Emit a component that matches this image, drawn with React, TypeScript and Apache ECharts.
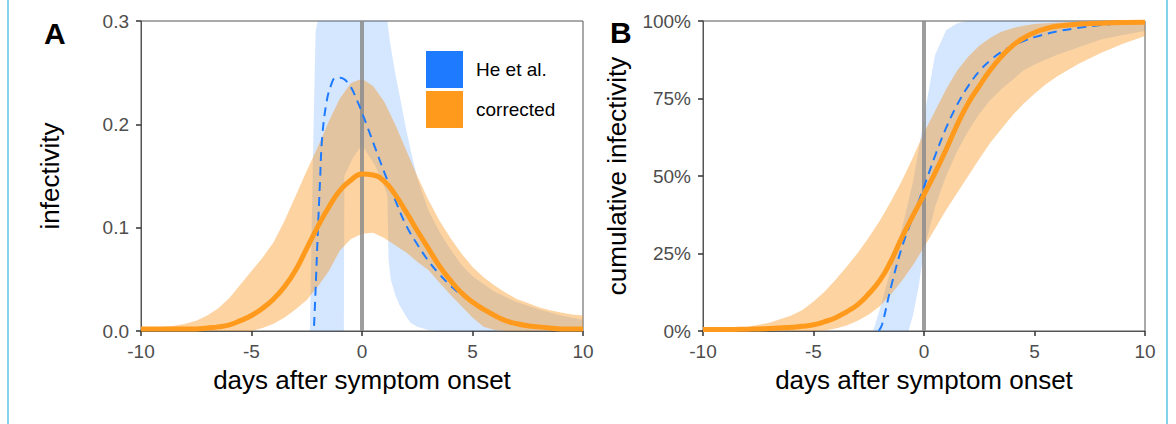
import React, { useEffect, useRef } from "react";
import * as echarts from "echarts";

// ---------- Panel A: infectivity (density) ----------
const xOrangeA = [-10, -9.5, -9, -8.5, -8, -7.5, -7, -6.5, -6, -5.5, -5, -4.5, -4, -3.5, -3, -2.5, -2, -1.5, -1, -0.5, 0, 0.5, 1, 1.5, 2, 2.5, 3, 3.5, 4, 4.5, 5, 5.5, 6, 6.5, 7, 7.5, 8, 8.5, 9, 9.5, 10];
const meanA = [0.002, 0.002, 0.002, 0.002, 0.002, 0.002, 0.003, 0.004, 0.006, 0.010, 0.015, 0.022, 0.031, 0.043, 0.059, 0.080, 0.101, 0.120, 0.136, 0.146, 0.152, 0.151, 0.145, 0.132, 0.115, 0.097, 0.080, 0.063, 0.049, 0.037, 0.028, 0.021, 0.015, 0.010, 0.007, 0.005, 0.004, 0.003, 0.002, 0.002, 0.002];
const loA = [0, 0, 0, 0, 0, 0, 0, 0, 0, 0, 0, 0.003, 0.007, 0.013, 0.021, 0.030, 0.043, 0.058, 0.078, 0.089, 0.094, 0.095, 0.090, 0.083, 0.076, 0.067, 0.059, 0.047, 0.035, 0.024, 0.013, 0.004, 0.001, 0, 0, 0, 0, 0, 0, 0, 0];
const hiA = [0.003, 0.003, 0.004, 0.005, 0.007, 0.010, 0.015, 0.022, 0.032, 0.045, 0.058, 0.071, 0.086, 0.107, 0.131, 0.155, 0.178, 0.203, 0.225, 0.240, 0.244, 0.237, 0.222, 0.200, 0.175, 0.150, 0.127, 0.107, 0.090, 0.075, 0.062, 0.052, 0.044, 0.037, 0.031, 0.027, 0.023, 0.020, 0.018, 0.016, 0.015];

const xBlueA = [-2.36, -2.3, -2.2, -2.1, -2.0, -1.5, -1.0, -0.82, -0.8, -0.4, 0.0, 0.6, 1.1, 1.15, 1.2, 1.3, 1.5, 1.7, 2.0, 2.2, 2.5, 3.0, 3.5, 4.0, 4.5, 5.0, 6.0, 7.0, 8.0, 9.0, 10.0];
const loBlueA = [0, 0, 0, 0, 0, 0, 0, 0, 0.15, 0.168, 0.18, 0.16, 0.135, 0.13, 0.07, 0.05, 0.035, 0.025, 0.014, 0.008, 0.004, 0.001, 0, 0, 0, 0, 0, 0, 0, 0, 0];
const hiBlueA = [0, 0.07, 0.19, 0.29, 0.4, 0.45, 0.45, 0.45, 0.45, 0.45, 0.45, 0.45, 0.32, 0.3, 0.29, 0.275, 0.25, 0.228, 0.195, 0.175, 0.148, 0.117, 0.096, 0.079, 0.064, 0.053, 0.038, 0.028, 0.021, 0.015, 0.011];

const xDashA = [-2.17, -2.1, -2.0, -1.9, -1.8, -1.6, -1.4, -1.2, -1.0, -0.6, -0.2, 0.2, 0.6, 1.0, 1.5, 2.0, 2.5, 3.0, 3.5, 4.0, 4.5, 5.0, 5.5, 6, 7, 8, 9, 10];
const dashA = [0.005, 0.04, 0.095, 0.145, 0.188, 0.222, 0.238, 0.245, 0.245, 0.239, 0.222, 0.200, 0.177, 0.154, 0.127, 0.102, 0.084, 0.068, 0.055, 0.044, 0.035, 0.028, 0.021, 0.015, 0.008, 0.004, 0.002, 0.001];

// ---------- Panel B: cumulative infectivity ----------
const xOrangeB = [-10, -9, -8, -7, -6, -5.5, -5, -4.5, -4, -3.5, -3, -2.5, -2, -1.5, -1, -0.5, 0, 0.5, 1, 1.5, 2, 2.5, 3, 3.5, 4, 4.5, 5, 5.5, 6, 7, 8, 9, 10];
const meanB = [0.005, 0.005, 0.006, 0.008, 0.012, 0.015, 0.02, 0.03, 0.043, 0.062, 0.085, 0.12, 0.163, 0.225, 0.302, 0.372, 0.44, 0.51, 0.585, 0.665, 0.735, 0.79, 0.842, 0.885, 0.92, 0.945, 0.963, 0.975, 0.983, 0.99, 0.993, 0.995, 0.996];
const loB = [0, 0, 0, 0, 0, 0, 0, 0.002, 0.008, 0.018, 0.033, 0.053, 0.08, 0.118, 0.162, 0.212, 0.27, 0.33, 0.39, 0.445, 0.5, 0.555, 0.607, 0.652, 0.695, 0.733, 0.765, 0.795, 0.82, 0.862, 0.897, 0.927, 0.952];
const hiB = [0.005, 0.007, 0.013, 0.027, 0.05, 0.068, 0.095, 0.127, 0.165, 0.207, 0.252, 0.302, 0.356, 0.418, 0.485, 0.56, 0.64, 0.71, 0.78, 0.84, 0.885, 0.92, 0.946, 0.965, 0.977, 0.985, 0.99, 0.993, 0.995, 0.997, 0.998, 0.998, 0.998];

const xBlueB = [-2.3, -2, -1.5, -1, -0.7, -0.5, -0.25, 0, 0.5, 1, 1.5, 2, 2.5, 3, 3.5, 4, 4.5, 5, 6, 7, 8, 9, 10];
const loBlueB = [0, 0, 0, 0, 0, 0.05, 0.14, 0.26, 0.40, 0.50, 0.58, 0.645, 0.70, 0.745, 0.78, 0.81, 0.84, 0.86, 0.89, 0.915, 0.94, 0.955, 0.968];
const hiBlueB = [0, 0.07, 0.2, 0.33, 0.42, 0.48, 0.58, 0.69, 0.89, 0.97, 0.993, 1, 1, 1, 1, 1, 1, 1, 1, 1, 1, 1, 1];

const xDashB = [-2.05, -1.9, -1.5, -1.0, -0.5, 0, 0.5, 1, 1.5, 2, 2.5, 3, 3.5, 4, 4.5, 5, 6, 7, 8, 9, 10];
const dashB = [0, 0.02, 0.14, 0.27, 0.368, 0.465, 0.565, 0.655, 0.73, 0.79, 0.838, 0.873, 0.9, 0.92, 0.935, 0.948, 0.966, 0.978, 0.987, 0.993, 0.997];

// ---------- axes / labels ----------
const xRange = [-10, 10];
const xInterval = 5;
const yRangeA = [0, 0.3];
const yIntervalA = 0.1;
const yRangeB = [0, 1];
const yIntervalB = 0.25;
const onsetX = 0;
const legendNames = ["He et al.", "corrected"];
const xTitle = "days after symptom onset";
const yTitleA = "infectivity";
const yTitleB = "cumulative infectivity";

const BLUE = "#1E7BFF";
const ORANGE = "#FF9A1C";
const BLUE_BAND = "rgba(31,120,255,0.19)";
const ORANGE_BAND = "rgba(247,150,30,0.42)";
const FONT = "Liberation Sans, Arial, sans-serif";

const pairs = (xs: number[], ys: number[]) => xs.map((x, i) => [x, ys[i]]);

function band(idx: number, xs: number[], lo: number[], hi: number[], color: string) {
  return {
    type: "custom", xAxisIndex: idx, yAxisIndex: idx, silent: true,
    data: xs.map((x, i) => [x, lo[i], hi[i]]),
    encode: { x: 0, y: [1, 2] },
    renderItem: (params: any, api: any) => {
      if (params.dataIndex !== 0) return null;
      const cs = params.coordSys;
      const top = cs.y;
      const clampY = (p: number[]) => [p[0], Math.max(top, p[1])];
      const pts: number[][] = [];
      for (let i = 0; i < xs.length; i++) pts.push(clampY(api.coord([xs[i], hi[i]])));
      for (let i = xs.length - 1; i >= 0; i--) pts.push(clampY(api.coord([xs[i], lo[i]])));
      return { type: "polygon", shape: { points: pts }, style: { fill: color, stroke: null } };
    },
  };
}

function xAxisDef(idx: number) {
  return {
    type: "value", gridIndex: idx, min: xRange[0], max: xRange[1], interval: xInterval,
    axisLine: { show: true, onZero: false, lineStyle: { color: "#555", width: 1 } },
    axisTick: { show: true, length: 5, lineStyle: { color: "#333", width: 1.5 } },
    axisLabel: { color: "#4d4d4d", fontSize: 19, fontFamily: FONT, margin: 11 },
    splitLine: { show: false },
    name: xTitle, nameLocation: "middle", nameGap: 36,
    nameTextStyle: { color: "#000", fontSize: 26, fontFamily: FONT },
  };
}

function yAxisDef(idx: number, range: number[], interval: number, fmt: (v: number) => string, name: string, gap: number) {
  return {
    type: "value", gridIndex: idx, min: range[0], max: range[1], interval,
    axisLine: { show: true, onZero: false, lineStyle: { color: "#555", width: 1 } },
    axisTick: { show: true, length: 5, lineStyle: { color: "#333", width: 1.5 } },
    axisLabel: { color: "#4d4d4d", fontSize: 19, fontFamily: FONT, margin: 12, formatter: fmt },
    splitLine: { show: false },
    name, nameLocation: "middle", nameGap: gap,
    nameTextStyle: { color: "#000", fontSize: 26, fontFamily: FONT },
  };
}

function panelSeries(idx: number, o: {
  xB: number[]; loBl: number[]; hiBl: number[];
  xO: number[]; lo: number[]; hi: number[]; mean: number[];
  xD: number[]; dash: number[]; yMax: number;
}) {
  return [
    {
      type: "line", xAxisIndex: idx, yAxisIndex: idx, silent: true, symbol: "none",
      data: [[onsetX, 0], [onsetX, o.yMax]],
      lineStyle: { color: "rgba(140,140,140,0.85)", width: 4 },
    },
    band(idx, o.xB, o.loBl, o.hiBl, BLUE_BAND),
    band(idx, o.xO, o.lo, o.hi, ORANGE_BAND),
    {
      name: legendNames[0], type: "line", xAxisIndex: idx, yAxisIndex: idx, silent: true,
      data: pairs(o.xD, o.dash), symbol: "none", smooth: 0.4,
      lineStyle: { color: BLUE, width: 2, type: [9, 6] }, itemStyle: { color: BLUE },
    },
    {
      name: legendNames[1], type: "line", xAxisIndex: idx, yAxisIndex: idx, silent: true,
      data: pairs(o.xO, o.mean), symbol: "none", smooth: 0.5,
      lineStyle: { color: ORANGE, width: 5 }, itemStyle: { color: ORANGE },
    },
  ];
}

export default function App() {
  const ref = useRef<HTMLDivElement>(null);
  useEffect(() => {
    if (!ref.current) return;
    const chart = echarts.init(ref.current, undefined, { renderer: "svg" });
    const option: any = {
      animation: false,
      backgroundColor: "#fff",
      textStyle: { fontFamily: FONT },
      grid: [
        { left: 141, right: 593, top: 21, bottom: 93, show: true, borderColor: "#555", borderWidth: 1, backgroundColor: "transparent" },
        { left: 703, right: 31, top: 21, bottom: 93, show: true, borderColor: "#555", borderWidth: 1, backgroundColor: "transparent" },
      ],
      xAxis: [xAxisDef(0), xAxisDef(1)],
      yAxis: [
        yAxisDef(0, yRangeA, yIntervalA, (v: number) => v.toFixed(1), yTitleA, 78),
        yAxisDef(1, yRangeB, yIntervalB, (v: number) => Math.round(v * 100) + "%", yTitleB, 73),
      ],
      legend: {
        orient: "vertical", left: 426, top: 51, padding: 0, itemWidth: 37, itemHeight: 37, itemGap: 3,
        selectedMode: false,
        textStyle: { fontSize: 19, color: "#000", fontFamily: FONT, padding: [0, 0, 0, 8] },
        data: [
          { name: legendNames[0], icon: "rect", itemStyle: { color: BLUE }, lineStyle: { width: 0 } },
          { name: legendNames[1], icon: "rect", itemStyle: { color: ORANGE }, lineStyle: { width: 0 } },
        ],
      },
      graphic: [
        { type: "line", shape: { x1: 8, y1: 0, x2: 8, y2: 424 }, style: { stroke: "#5BC4E4", lineWidth: 1.5 } },
        { type: "line", shape: { x1: 1167, y1: 0, x2: 1167, y2: 424 }, style: { stroke: "#5BC4E4", lineWidth: 1.5 } },
        { type: "text", left: 44, top: 18, style: { text: "A", font: "bold 30px Liberation Sans, Arial, sans-serif", fill: "#000" } },
        { type: "text", left: 610, top: 17, style: { text: "B", font: "bold 30px Liberation Sans, Arial, sans-serif", fill: "#000" } },
      ],
      series: [
        ...panelSeries(0, { xB: xBlueA, loBl: loBlueA, hiBl: hiBlueA, xO: xOrangeA, lo: loA, hi: hiA, mean: meanA, xD: xDashA, dash: dashA, yMax: yRangeA[1] }),
        ...panelSeries(1, { xB: xBlueB, loBl: loBlueB, hiBl: hiBlueB, xO: xOrangeB, lo: loB, hi: hiB, mean: meanB, xD: xDashB, dash: dashB, yMax: yRangeB[1] }),
      ],
    };
    chart.setOption(option);
    return () => chart.dispose();
  }, []);
  return <div ref={ref} style={{ position: "absolute", left: 0, top: 0, width: 1176, height: 424 }} />;
}
